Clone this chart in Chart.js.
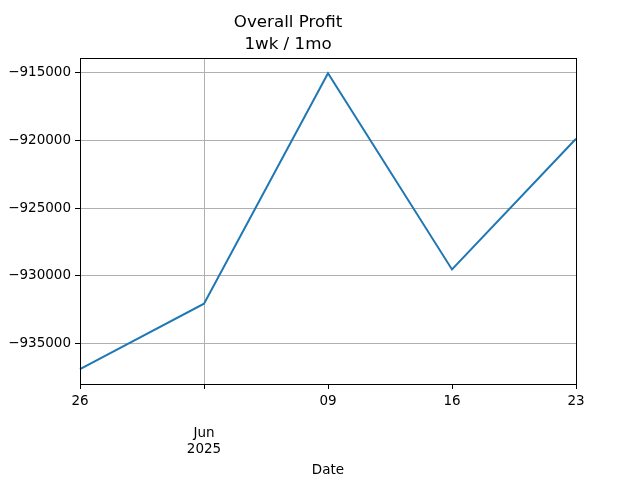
<!DOCTYPE html>
<html>
<head>
<meta charset="utf-8">
<script src="https://cdn.jsdelivr.net/npm/chart.js@4"></script>
<style>
  html, body { margin: 0; padding: 0; background: #fff; }
  #wrap { width: 640px; height: 480px; }
</style>
</head>
<body>
<div id="wrap"><canvas id="profitChart"></canvas></div>
<script>
'use strict';

/* --------------------------------------------------------------------------
   DATA — weekly overall profit (week starting)
   -------------------------------------------------------------------------- */
const weekLabels = ['26', 'Jun\n2025', '09', '16', '23'];
const profitValues = [-936920, -932075, -915030, -929540, -919870];
const yTicks = [-935000, -930000, -925000, -920000, -915000];
const yMin = -938016;
const yMax = -913904;

const LINE_BLUE = '#1f77b4';
const GRID_GREY = '#b0b0b0';
const FONT = 'DejaVu Sans';

/* Full black frame round the plot, like a matplotlib axes box */
const frameBox = {
    id: 'frameBox',
    afterDraw(chart) {
        const { ctx, chartArea: a } = chart;
        ctx.save();
        ctx.strokeStyle = '#000';
        ctx.lineWidth = 1;
        ctx.strokeRect(Math.round(a.left) + 0.5, Math.round(a.top) + 0.5,
            Math.round(a.right - a.left), Math.round(a.bottom - a.top));
        ctx.restore();
    },
};

const ctx = document.getElementById('profitChart').getContext('2d');
new Chart(ctx, {
    type: 'line',
    data: {
        labels: weekLabels,
        datasets: [{
            label: 'Overall Profit',
            data: profitValues,
            borderColor: LINE_BLUE,
            borderWidth: 2,
            pointRadius: 0,
            tension: 0,
            fill: false,
        }],
    },
    options: {
        responsive: true, maintainAspectRatio: false,
        animation: false,
        layout: { padding: { left: 0, right: 64, top: 0, bottom: 0 } },
        plugins: {
            legend: { display: false },
            tooltip: { enabled: false },
            title: {
                display: true,
                text: ['Overall Profit', '1wk / 1mo'],
                color: '#000',
                font: { family: FONT, size: 16.7, weight: 'normal', lineHeight: 1.35 },
                padding: { top: 11, bottom: 2 },
            },
        },
        scales: {
            x: {
                type: 'category',
                offset: false,
                border: { display: true, color: '#000', width: 1 },
                grid: {
                    color: c => (c.tick && c.index === 1) ? GRID_GREY : 'rgba(0,0,0,0)',
                    tickColor: '#000',
                    tickLength: 5,
                    lineWidth: 1,
                },
                ticks: {
                    color: '#000',
                    maxRotation: 0,
                    autoSkip: false,
                    padding: 4,
                    font: { family: FONT, size: 13.5 },
                    callback: function (v, i) {
                        const parts = weekLabels[i].split('\n');
                        return parts.length > 1 ? ['', ''].concat(parts) : parts[0];
                    },
                },
                title: {
                    display: true,
                    text: 'Date',
                    color: '#000',
                    font: { family: FONT, size: 13.5 },
                    padding: { top: 0, bottom: 1 },
                },
                afterFit: s => { s.height = 96; },
            },
            y: {
                min: yMin, max: yMax,
                border: { display: true, color: '#000', width: 1 },
                grid: { color: GRID_GREY, tickColor: '#000', tickLength: 5, lineWidth: 1 },
                ticks: {
                    color: '#000',
                    padding: 4,
                    font: { family: FONT, size: 13.5 },
                    callback: v => '\u2212' + Math.abs(v),
                },
                afterBuildTicks: s => { s.ticks = yTicks.map(v => ({ value: v })); },
                afterFit: s => { s.width = 80; },
            },
        },
    },
    plugins: [frameBox],
});
</script>
</body>
</html>
